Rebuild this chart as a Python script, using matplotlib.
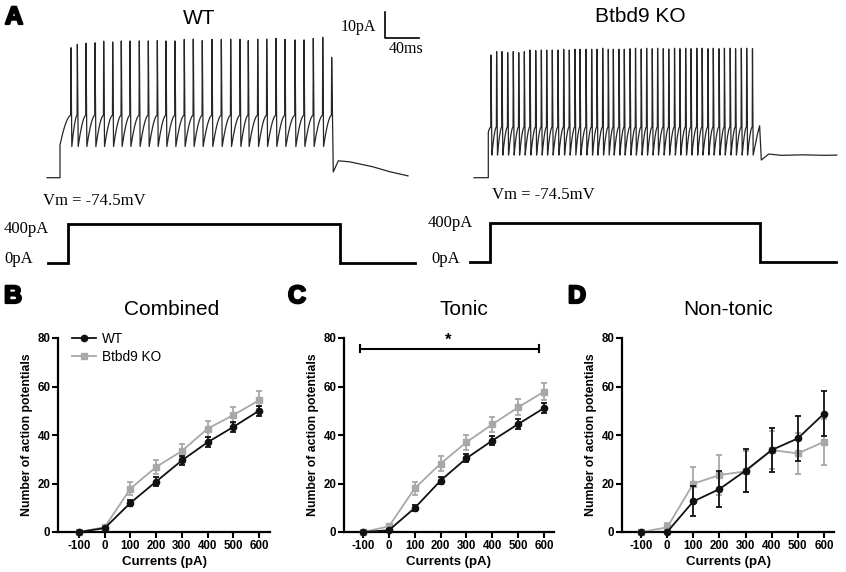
import numpy as np
import matplotlib
matplotlib.use('Agg')
import matplotlib.pyplot as plt
import matplotlib.patheffects as pe
from matplotlib.lines import Line2D

plt.rcParams['font.family'] = ['Liberation Sans', 'DejaVu Sans']
plt.rcParams['axes.unicode_minus'] = False

# ---------------- panel A: example recordings ----------------
rest_mv = -74.5

# WT: spike times (ms after step onset) and spike peaks (mV)
wt_spike_t = [12.9, 20.4, 30.6, 41.2, 51.4, 62.0, 72.1, 82.4, 93.3, 103.9,
              114.5, 124.7, 135.3, 146.2, 156.8, 167.4, 178.8, 189.8, 200.8, 211.8,
              221.5, 232.6, 243.2, 254.1, 264.7, 276.5, 287.1, 298.0, 309.1, 319.6]
wt_spike_peak = [-24.5, -23.2, -22.8, -22.6, -22.0, -22.3, -21.9, -21.9, -21.9, -21.9,
                 -21.8, -21.9, -21.9, -21.3, -21.2, -21.8, -21.3, -21.3, -21.2, -21.3,
                 -21.8, -21.2, -21.2, -20.9, -21.3, -21.5, -21.5, -20.9, -20.5, -28.2]
wt_onset_mv = -61.9
wt_threshold = -50.5
wt_trough = -62.5
wt_after_t = [321.5, 327.4, 341.0, 368.0, 388.0, 409.4]
wt_after_v = [-72.3, -68.0, -68.4, -70.3, -72.2, -73.8]
wt_start_t = -15.3
wt_cmd = (-14.0, 9.4, 329.4, 417.6)   # start, on, off, end (ms)

# Btbd9 KO
ko_spike_t = [3.2, 9.8, 16.1, 22.8, 29.4, 35.8, 42.4, 49.1, 55.8, 62.4,
              68.7, 75.3, 82.0, 88.7, 95.3, 102.0, 107.9, 115.0, 121.6, 127.9,
              134.6, 141.2, 147.1, 153.8, 160.0, 166.8, 173.2, 179.9, 186.3, 192.9,
              199.2, 205.9, 212.3, 219.1, 225.4, 232.2, 238.5, 245.3, 251.6, 258.4,
              264.7, 271.5, 277.8, 284.6, 290.9, 297.7, 304.0, 310.8]
ko_spike_peak = [-27.3, -26.0, -26.0, -26.4, -26.0, -26.4, -26.0, -25.4, -25.6, -25.4,
                 -25.4, -25.4, -25.4, -25.1, -25.4, -25.1, -25.1, -25.1, -25.1, -25.1,
                 -24.7, -25.1, -25.1, -25.1, -25.1, -24.9, -24.7, -25.0, -24.7, -24.9,
                 -24.7, -24.9, -25.0, -24.7, -24.9, -24.7, -24.9, -24.7, -24.7, -24.9,
                 -24.7, -24.9, -24.7, -24.7, -24.9, -24.7, -24.7, -24.9]
ko_onset_mv = -57.0
ko_threshold = -55.0
ko_trough = -65.8
ko_after_t = [311.6, 316.5, 319.2, 321.2, 330.0, 345.0, 370.0, 395.0, 410.0]
ko_after_v = [-65.8, -58.0, -54.5, -67.7, -65.4, -65.9, -65.7, -65.9, -65.8]
ko_start_t = -16.8
ko_cmd = (-21.5, 2.0, 319.6, 409.0)

cmd_pa = 400

# ---------------- panels B-D: spike counts ----------------
currents = [-100, 0, 100, 200, 300, 400, 500, 600]

comb_wt = [0, 1.6, 12.0, 20.8, 29.5, 37.0, 43.3, 50.0]
comb_wt_sem = [0, 0.5, 1.4, 1.8, 1.8, 2.0, 2.0, 2.0]
comb_ko = [0, 2.0, 17.9, 26.8, 33.4, 42.6, 48.2, 54.3]
comb_ko_sem = [0, 0.5, 2.8, 3.0, 3.0, 3.3, 3.3, 3.7]

tonic_wt = [0, 0.7, 9.9, 21.2, 30.4, 37.7, 44.5, 51.1]
tonic_wt_sem = [0, 0.4, 1.2, 1.5, 1.6, 1.8, 2.0, 2.2]
tonic_ko = [0, 2.3, 18.0, 28.2, 37.0, 44.4, 51.4, 57.9]
tonic_ko_sem = [0, 1.0, 2.8, 3.0, 3.0, 3.2, 3.3, 3.4]

nontonic_wt = [0, 0, 12.6, 17.7, 25.3, 33.8, 38.6, 48.8]
nontonic_wt_sem = [0, 0, 6.2, 7.5, 8.8, 9.0, 9.4, 9.3]
nontonic_ko = [0, 1.9, 19.9, 23.5, 25.0, 33.8, 32.4, 37.2]
nontonic_ko_sem = [0, 1.8, 6.8, 8.2, 8.5, 8.0, 8.4, 9.6]

sig_span = [-110, 580]
sig_level = 75.6

W, H = 846, 572
fig = plt.figure(figsize=(W / 100, H / 100), dpi=100)


def px_axes(left, top, right, bottom):
    return fig.add_axes([left / W, 1 - bottom / H, (right - left) / W, (bottom - top) / H])


def build_trace(start_t, onset, spikes, peaks, thr, trough, after_t, after_v):
    t = [start_t, 0.0, 0.0]
    v = [rest_mv, rest_mv, onset]
    prev_t, prev_v = 0.0, onset
    s = np.linspace(0, 1, 10)
    for i, (ts, pk) in enumerate(zip(spikes, peaks)):
        t += list(prev_t + (ts - 0.3 - prev_t) * s)
        v += list(prev_v + (thr - prev_v) * (1 - (1 - s) ** 1.7))
        t.append(ts)
        v.append(pk)
        if i < len(spikes) - 1:
            t.append(ts + 1.0)
            v.append(trough)
            prev_t, prev_v = ts + 1.0, trough
    t += after_t
    v += after_v
    return t, v


def trace_panel(box_px, step_px, cmd_box, zero_px, title, title_xy, trace, cmd):
    l, tp, r, b = box_px
    ax = px_axes(l, tp, r, b)
    ax.plot(*trace, color='#262626', lw=0.9)
    ax.set_xlim((l - step_px) / 0.85, (r - step_px) / 0.85)
    ax.set_ylim(rest_mv - (b - 177.7) / 2.6, rest_mv + 177.7 / 2.6)
    ax.axis('off')

    cl, ct, cr, cb = cmd_box
    axc = px_axes(cl, ct, cr, cb)
    start, on, off, end = cmd
    axc.plot([start, on, on, off, off, end], [0, 0, cmd_pa, cmd_pa, 0, 0],
             color='black', lw=2.0, solid_joinstyle='miter')
    axc.set_xlim((cl - step_px) / 0.85, (cr - step_px) / 0.85)
    axc.set_ylim((zero_px - cb) * cmd_pa / 39, (zero_px - ct) * cmd_pa / 39)
    axc.axis('off')
    fig.text(title_xy[0] / W, 1 - title_xy[1] / H, title, ha='center', va='center',
             fontsize=15)
    return ax


wt_trace = build_trace(wt_start_t, wt_onset_mv, wt_spike_t, wt_spike_peak,
                       wt_threshold, wt_trough, wt_after_t, wt_after_v)
ko_trace = build_trace(ko_start_t, ko_onset_mv, ko_spike_t, ko_spike_peak,
                       ko_threshold, ko_trough, ko_after_t, ko_after_v)

ax_wt = trace_panel((40, 0, 420, 195), 60, (40, 205, 420, 275), 263, 'WT', (199, 18),
                    wt_trace, wt_cmd)
trace_panel((465, 0, 845, 195), 488.3, (465, 204, 845, 274), 262, 'Btbd9 KO', (640, 17),
            ko_trace, ko_cmd)

# scale bar
sb_x, sb_y = (385 - 60) / 0.85, rest_mv + (177.7 - 38) / 2.6
ax_wt.plot([sb_x, sb_x, sb_x + 40], [sb_y + 10, sb_y, sb_y], color='black', lw=1.2,
           clip_on=False)
ax_wt.text(sb_x - 11, sb_y + 4.3, '10pA', ha='right', va='center',
           family='Liberation Serif', fontsize=11.5)
ax_wt.text(sb_x + 25, sb_y - 1.3, '40ms', ha='center', va='top',
           family='Liberation Serif', fontsize=11.5)

serif = dict(family='Liberation Serif', fontsize=12, va='center')
for x, y, s in [(43, 201, 'Vm = -74.5mV'), (4, 229, '400pA'), (4, 259, '0pA'),
                (492, 195, 'Vm = -74.5mV'), (428, 223, '400pA'), (431, 259, '0pA')]:
    fig.text(x / W, 1 - y / H, s, ha='left', **serif)

# panel letters
for x, y, s in [(5, 17, 'A'), (4, 296, 'B'), (288, 296, 'C'), (568, 296, 'D')]:
    fig.text(x / W, 1 - y / H, s, ha='left', va='center', fontsize=18,
             fontweight='bold',
             path_effects=[pe.withStroke(linewidth=1.6, foreground='black')])

# ---------------- count panels ----------------
grey = '#a8a8a8'
panels = [
    ((58, 338, 270, 532), (-181.7, 642.9), 'Combined', 0.538,
     comb_wt, comb_wt_sem, comb_ko, comb_ko_sem),
    ((344, 338, 554, 532), (-173.5, 638.6), 'Tonic', 0.571,
     tonic_wt, tonic_wt_sem, tonic_ko, tonic_ko_sem),
    ((622, 338, 834, 532), (-172.7, 638.3), 'Non-tonic', 0.5,
     nontonic_wt, nontonic_wt_sem, nontonic_ko, nontonic_ko_sem),
]
axes = []
for box, xlim, title, tx, wt, wt_e, ko, ko_e in panels:
    ax = px_axes(*box)
    ax.errorbar(currents, ko, yerr=ko_e, color=grey, marker='s', ms=4.2, lw=1.3,
                elinewidth=1.3, capsize=2.5, capthick=1.3, clip_on=False, zorder=3)
    ax.errorbar(currents, wt, yerr=wt_e, color='#111111', marker='o', ms=4.5, lw=1.3,
                elinewidth=1.3, capsize=2.5, capthick=1.3, clip_on=False, zorder=4)
    ax.set_xlim(*xlim)
    ax.set_ylim(0, 80)
    ax.set_xticks(currents)
    ax.set_yticks([0, 20, 40, 60, 80])
    for side in ['top', 'right']:
        ax.spines[side].set_visible(False)
    for side in ['left', 'bottom']:
        ax.spines[side].set_linewidth(1.6)
    ax.tick_params(direction='out', length=4, width=1.5, labelsize=8.3, pad=1.5)
    for lbl in ax.get_xticklabels() + ax.get_yticklabels():
        lbl.set_fontweight('bold')
    ax.set_xlabel('Currents (pA)', fontsize=9.5, fontweight='bold', labelpad=3)
    ax.set_ylabel('Number of action potentials', fontsize=8.8, fontweight='bold',
                  labelpad=3)
    ax.text(tx, 1 + 29 / 194, title, transform=ax.transAxes, ha='center', va='center',
            fontsize=15)
    axes.append(ax)

handles = [Line2D([], [], color='#111111', marker='o', ms=4.5, lw=1.3),
           Line2D([], [], color=grey, marker='s', ms=4.2, lw=1.3)]
axes[0].legend(handles, ['WT', 'Btbd9 KO'], loc='upper left', frameon=False,
               bbox_to_anchor=(0.066, 1.03), borderaxespad=0, borderpad=0,
               handlelength=1.8, handletextpad=0.4, labelspacing=0.3, fontsize=9.8)

ax_c = axes[1]
ax_c.plot(sig_span, [sig_level, sig_level], color='black', lw=1.5)
for x in sig_span:
    ax_c.plot([x, x], [sig_level - 1.5, sig_level + 1.5], color='black', lw=1.5)
ax_c.text(230, sig_level + 0.3, '*', ha='center', va='bottom', fontsize=12,
          fontweight='bold')

fig.savefig('out.png', dpi=100, facecolor='white')
